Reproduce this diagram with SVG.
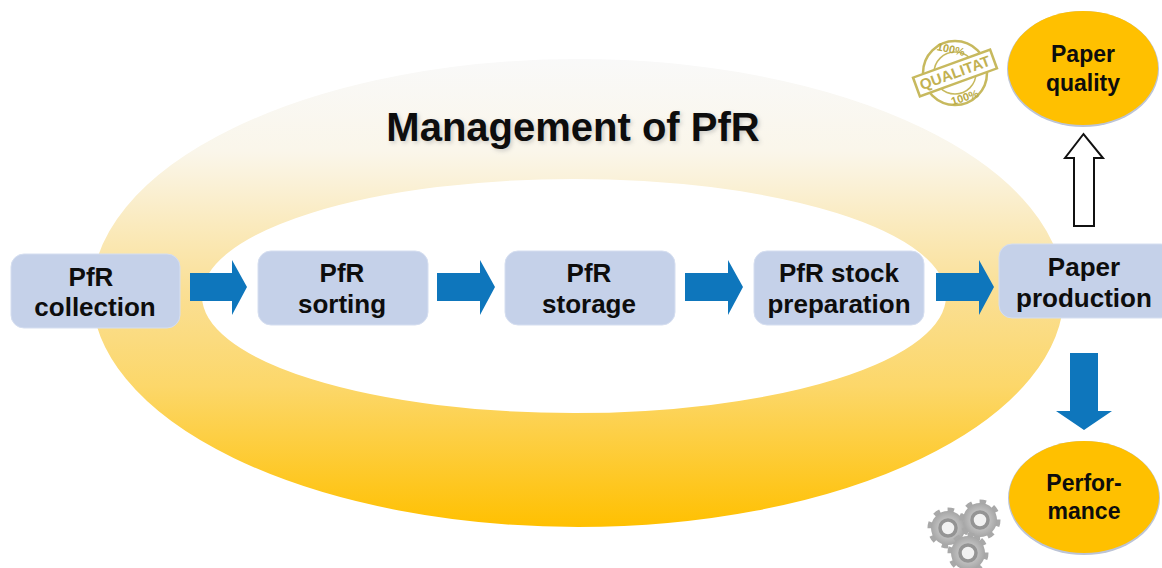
<svg xmlns="http://www.w3.org/2000/svg" width="1162" height="568" viewBox="0 0 1162 568">
<style>
text{font-family:"Liberation Sans",Arial,sans-serif;font-weight:700;fill:#0d0d0d;text-anchor:middle}
.t{font-size:26px}
.b{fill:#c5d1e9;stroke:#d5def0;stroke-width:1}
.o{fill:#ffc000}
.os{fill:#bcc4d6}
.a{fill:#0e76bc}
.s{fill:none;stroke:#c7b95e}
.st{fill:#b9aa45;font-size:11px}
.g{fill:url(#gr)}
.gt{fill:none;stroke:#a8a8a8;stroke-width:7;stroke-dasharray:6 7.200}
.gi{fill:#f2f2f2;stroke:#949494;stroke-width:3.500}
</style>
<defs>
<linearGradient id="ring" x1="0" y1="0" x2="0" y2="1">
<stop offset="0" stop-color="#f9f9f9"/>
<stop offset=".2" stop-color="#faf6ea"/>
<stop offset=".5" stop-color="#fadf94"/>
<stop offset=".7" stop-color="#fcd769"/>
<stop offset="1" stop-color="#ffc000"/>
</linearGradient>
<radialGradient id="gr"><stop offset="0" stop-color="#dedede"/><stop offset="1" stop-color="#a6a6a6"/></radialGradient>
<filter id="sh" x="-5%" y="-10%" width="110%" height="120%"><feGaussianBlur stdDeviation="2"/></filter>
<g id="gear"><circle class="gt" r="17"/><circle class="g" r="17"/><circle class="gi" r="8"/></g>
</defs>
<g id="ring-group">
<path fill="url(#ring)" stroke="#ffffff" stroke-width="2" fill-rule="evenodd" d="M91 293a487 235 0 1 0 974 0a487 235 0 1 0-974 0zM203 296a371 116 0 1 1 742 0a371 116 0 1 1-742 0z"/>
<text x="573" y="141" font-size="40" style="fill:#999;opacity:.45" filter="url(#sh)" dx="2" dy="2">Management of PfR</text>
<text id="title" x="573" y="141" font-size="40">Management of PfR</text>
</g>
<g id="connectors">
<path class="a" d="M190 273h42v-13l15 27-15 28v-14h-42z"/>
<path class="a" d="M437 273h43v-13l15 27-15 28v-14h-43z"/>
<path class="a" d="M685 273h43v-13l15 27-15 28v-14h-43z"/>
<path class="a" d="M936 273h43v-13l15 27-15 28v-14h-43z"/>
<path d="M1074 226v-68h-9l18.500-24 19.500 24h-9v68z" fill="#fff" stroke="#111" stroke-width="2"/>
<path class="a" d="M1070 353h28v58h14l-28 19-28-19h14z"/>
</g>
<g id="n1"><rect class="b" x="11" y="254" width="169" height="74" rx="13"/><text class="t" x="91" y="286">PfR</text><text class="t" x="95" y="316">collection</text></g>
<g id="n2"><rect class="b" x="258" y="251" width="170" height="74" rx="13"/><text class="t" x="342" y="282">PfR</text><text class="t" x="342" y="313">sorting</text></g>
<g id="n3"><rect class="b" x="505" y="251" width="170" height="74" rx="13"/><text class="t" x="589" y="282">PfR</text><text class="t" x="589" y="313">storage</text></g>
<g id="n4"><rect class="b" x="754" y="251" width="170" height="74" rx="13"/><text class="t" x="839" y="282">PfR stock</text><text class="t" x="839" y="313">preparation</text></g>
<g id="n5"><rect class="b" x="999" y="244" width="175" height="74" rx="13"/><text class="t" x="1084" y="276">Paper</text><text class="t" x="1084" y="307">production</text></g>
<g id="n6"><ellipse class="os" cx="1083" cy="69" rx="76" ry="58"/><ellipse class="o" cx="1083" cy="68" rx="75" ry="57"/><text x="1083" y="62" font-size="23">Paper</text><text x="1083" y="91" font-size="23">quality</text></g>
<g id="n7"><ellipse class="os" cx="1084" cy="498" rx="76" ry="57"/><ellipse class="o" cx="1084" cy="497" rx="75" ry="56"/><text x="1084" y="491" font-size="23">Perfor-</text><text x="1084" y="519" font-size="23">mance</text></g>
<g id="stamp">
<circle class="s" cx="955" cy="73" r="32" stroke-width="2.500"/>
<circle class="s" cx="955" cy="73" r="21" stroke-width="1.500"/>
<text class="st" x="950" y="53" transform="rotate(12 950 53)">100%</text>
<text class="st" x="966" y="101" transform="rotate(-18 966 101)">100%</text>
<g transform="rotate(-20 955 73)">
<rect x="914" y="63" width="82" height="20" fill="#fff" stroke="#c7b95e" stroke-width="2.500"/>
<text x="955" y="78" font-size="15" style="fill:#c2b152" textLength="74" lengthAdjust="spacingAndGlyphs">QUALITAT</text>
</g>
</g>
<g id="gears">
<use href="#gear" x="948" y="528"/>
<use href="#gear" x="980" y="520"/>
<use href="#gear" x="968" y="553"/>
</g>
</svg>
